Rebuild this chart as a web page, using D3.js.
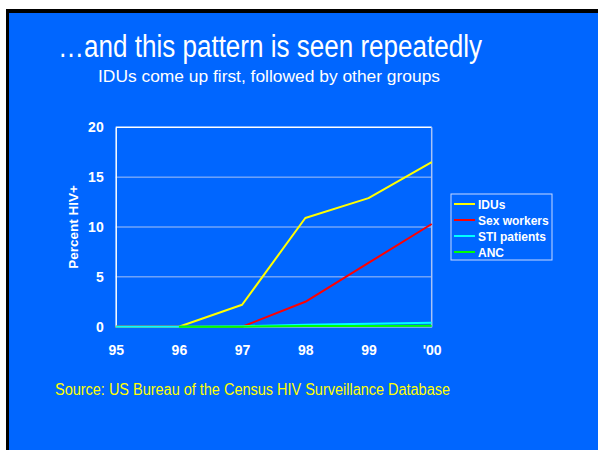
<!DOCTYPE html>
<html><head><meta charset="utf-8">
<script src="https://cdn.jsdelivr.net/npm/d3@7"></script>
<style>html,body{margin:0;padding:0;background:#fff;}svg{display:block;}</style>
</head><body>
<script>
const years = ["95","96","97","98","99","'00"];
const idus = [0, 0, 2.2, 10.9, 12.9, 16.5];
const sexWorkers = [0, 0, 0, 2.5, 6.4, 10.3];
const stiPatients = [0, 0, 0.05, 0.2, 0.3, 0.4];
const anc = [null, 0, 0, 0.08, 0.08, 0.1];
const seriesNames = ["IDUs", "Sex workers", "STI patients", "ANC"];
const seriesColors = ["#ffff00", "#ff0000", "#00ffff", "#00ff00"];
const yTicks = [0, 5, 10, 15, 20];
const titleText = "\u2026and this pattern is seen repeatedly";
const subtitleText = "IDUs come up first, followed by other groups";
const sourceText = "Source: US Bureau of the Census HIV Surveillance Database";
const yLabel = "Percent HIV+";

const W = 598, H = 450;
const svg = d3.select("body").append("svg").attr("width", W).attr("height", H);
svg.append("rect").attr("x",0).attr("y",0).attr("width",W).attr("height",H).attr("fill","#fff");
svg.append("rect").attr("x",6).attr("y",9).attr("width",W).attr("height",H).attr("fill","#000");
svg.append("rect").attr("x",9).attr("y",13).attr("width",W).attr("height",H).attr("fill","#0066ff");

const font = "Arial, 'Liberation Sans', sans-serif";
svg.append("text").attr("x",58).attr("y",57).attr("text-anchor","start")
  .attr("textLength", 424).attr("lengthAdjust", "spacingAndGlyphs")
  .attr("fill","#fff").attr("font-family",font).attr("font-size",31).text(titleText);
svg.append("text").attr("x",98).attr("y",82).attr("text-anchor","start")
  .attr("textLength", 342).attr("lengthAdjust", "spacingAndGlyphs")
  .attr("fill","#fff").attr("font-family",font).attr("font-size",17).text(subtitleText);
svg.append("text").attr("x",55).attr("y",395).attr("text-anchor","start")
  .attr("textLength", 395).attr("lengthAdjust", "spacingAndGlyphs")
  .attr("fill","#ffff00").attr("font-family",font).attr("font-size",16).text(sourceText);

const x = d3.scalePoint().domain(years).range([115.7, 431.7]);
const y = d3.scaleLinear().domain([0, 20]).range([326.7, 127.3]);

const g = svg.append("g");
g.selectAll("line.grid").data(yTicks.filter(t => t > 0 && t < 20)).join("line")
  .attr("x1", x(years[0])).attr("x2", x(years[years.length-1]))
  .attr("y1", d => y(d)).attr("y2", d => y(d))
  .attr("stroke", "#a9c3f5").attr("stroke-width", 1);
g.append("line").attr("x1", x(years[0])).attr("x2", x(years[years.length-1]))
  .attr("y1", y(20)).attr("y2", y(20)).attr("stroke", "#fff").attr("stroke-width", 1.5);
g.append("line").attr("x1", x(years[years.length-1])).attr("x2", x(years[years.length-1]))
  .attr("y1", y(20)).attr("y2", y(0)).attr("stroke", "#a9c3f5").attr("stroke-width", 1.5);

const yAxis = d3.axisLeft(y).tickValues(yTicks).tickSize(0).tickPadding(12);
const ya = svg.append("g").attr("transform", `translate(${x(years[0])},0)`).call(yAxis);
ya.select(".domain").attr("stroke", "#fff").attr("stroke-width", 1.5);
ya.selectAll("text").attr("fill", "#fff").attr("font-family", font)
  .attr("font-size", 14).attr("font-weight", "bold");

const xAxis = d3.axisBottom(x).tickSize(0).tickPadding(18);
const xa = svg.append("g").attr("transform", `translate(0,${y(0)})`).call(xAxis);
xa.select(".domain").attr("stroke", "#a9c3f5").attr("stroke-width", 1);
xa.selectAll("text").attr("fill", "#fff").attr("font-family", font)
  .attr("font-size", 14).attr("font-weight", "bold");

svg.append("text").attr("transform", "translate(78,227) rotate(-90)")
  .attr("text-anchor", "middle").attr("fill", "#fff").attr("font-family", font)
  .attr("font-size", 13.5).attr("font-weight", "bold").text(yLabel);

const data = [idus, sexWorkers, stiPatients, anc];
const line = d3.line().defined(d => d != null).x((d, i) => x(years[i])).y(d => y(d));
data.forEach((s, k) => {
  svg.append("path").datum(s).attr("d", line).attr("fill", "none")
    .attr("stroke", seriesColors[k]).attr("stroke-width", 2).attr("stroke-linejoin", "round");
});

const lg = svg.append("g").attr("transform", "translate(451,194)");
lg.append("rect").attr("x", 0).attr("y", 0).attr("width", 101).attr("height", 66)
  .attr("fill", "none").attr("stroke", "#c8d8ff").attr("stroke-width", 1);
seriesNames.forEach((n, k) => {
  const yy = 10 + k * 16;
  lg.append("line").attr("x1", 3).attr("x2", 24).attr("y1", yy).attr("y2", yy)
    .attr("stroke", seriesColors[k]).attr("stroke-width", 2);
  lg.append("text").attr("x", 27).attr("y", yy + 4.5).attr("fill", "#fff")
    .attr("font-family", font).attr("font-size", 12).attr("font-weight", "bold").text(n);
});
</script>
</body></html>
